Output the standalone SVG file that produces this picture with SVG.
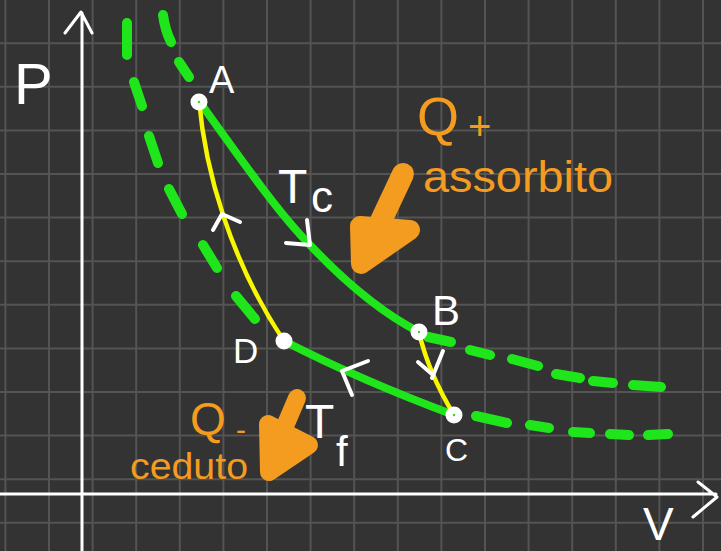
<svg xmlns="http://www.w3.org/2000/svg" width="721" height="551" viewBox="0 0 721 551">
<style>
.grid{stroke:#545454;stroke-width:2;fill:none}
.axis{stroke:#ffffff;stroke-width:3;fill:none;stroke-linecap:round;stroke-linejoin:round}
.iso{stroke:#1fe61a;stroke-width:8;fill:none;stroke-linecap:round}
.dash{stroke:#1fe61a;stroke-width:10;fill:none;stroke-linecap:round}
.adi{stroke:#f7f700;stroke-width:4.5;fill:none;stroke-linecap:round}
.tick{stroke:#ffffff;stroke-width:4;fill:none;stroke-linecap:round;stroke-linejoin:round}
.dot{fill:#ffffff}
.core{fill:#1fe61a}
.wl{fill:#ffffff;font-family:"Liberation Sans","DejaVu Sans",sans-serif}
.ol{fill:#f39c1f;font-family:"Liberation Sans","DejaVu Sans",sans-serif}
.oarrow{stroke:#f39c1f;fill:#f39c1f;stroke-linecap:round;stroke-linejoin:round}
</style>
<rect x="0" y="0" width="721" height="551" fill="#333333"/>
<path class="grid" d="M5.4 0V551M49 0V551M92.6 0V551M136.2 0V551M179.8 0V551M223.4 0V551M267 0V551M310.6 0V551M354.2 0V551M397.8 0V551M441.4 0V551M485 0V551M528.6 0V551M572.2 0V551M615.8 0V551M659.4 0V551M703 0V551M0 43.2H721M0 86.8H721M0 130.4H721M0 174H721M0 217.6H721M0 261.2H721M0 304.8H721M0 348.4H721M0 392H721M0 435.6H721M0 479.2H721M0 522.8H721"/>
<g id="axes">
<path class="axis" d="M82 551V13M65 33L81 12L92 33"/>
<path class="axis" d="M0 494H716M698 482L717 497L693 517"/>
<text class="wl" x="14" y="104" font-size="58">P</text>
<text class="wl" x="643" y="540" font-size="46">V</text>
</g>
<g id="connectors">
<path class="iso" d="M199 101C245 165 280 215 310 245C345 282 380 312 419 332"/>
<path class="iso" d="M284 341Q360 380 454 415"/>
<path class="adi" d="M199 100C205 170 230 260 284 341"/>
<path class="adi" d="M419 332Q428 372 454 415"/>
<g id="dashes">
<path class="dash" d="M428 337L451 342M470 350L490 355M512 359L538 366M556 374L580 378M593 381L613 383M633 385L661 387"/>
<path class="dash" d="M476 416L507 423M530 425L549 428M573 432L590 433M610 434L629 435M648 435L668 434"/>
<path class="dash" d="M127 23L127 55M134 82L142 106M149 136L158 163M169 189L182 214M203 245L217 268M236 296L255 319"/>
<path class="dash" d="M163 15Q165 30 171 42M179 62L189 77"/>
</g>
<path class="tick" d="M213 230L222 214L240 222"/>
<path class="tick" d="M307 220L310 245L286 243"/>
<path class="tick" d="M368 361L342 371L352 395"/>
<path class="tick" d="M418 362L433 375M443 351L432 378"/>
</g>
<g id="A"><circle class="dot" cx="199" cy="102" r="8.5"/><circle class="core" cx="199" cy="102" r="1.2"/><text class="wl" x="209" y="93" font-size="38">A</text></g>
<g id="B"><circle class="dot" cx="419" cy="332" r="8.5"/><circle class="core" cx="419" cy="332" r="1.2"/><text class="wl" x="432" y="325" font-size="42">B</text></g>
<g id="C"><circle class="dot" cx="454" cy="415" r="8.5"/><circle class="core" cx="454" cy="415" r="1.2"/><text class="wl" x="445" y="461" font-size="32">C</text></g>
<g id="D"><circle class="dot" cx="284" cy="341" r="8.5"/><text class="wl" x="233" y="363" font-size="35">D</text></g>
<g id="Tc"><text class="wl" font-size="48"><tspan x="278" y="203">T</tspan><tspan x="311" y="212" font-size="44">c</tspan></text></g>
<g id="Tf"><text class="wl" font-size="48"><tspan x="305" y="438">T</tspan><tspan x="336" y="466" font-size="42">f</tspan></text></g>
<g id="Qplus">
<path class="oarrow" stroke-width="22" d="M403 174L372 240"/>
<path class="oarrow" stroke-width="20" d="M360 226L361 264L410 230Z"/>
<text class="ol" x="417" y="135" font-size="54">Q</text>
<text class="ol" x="468" y="140" font-size="40">+</text>
<text class="ol" x="423" y="192" font-size="45" textLength="190" lengthAdjust="spacingAndGlyphs">assorbito</text>
</g>
<g id="Qminus">
<path class="oarrow" stroke-width="18" d="M297 398L274 452"/>
<path class="oarrow" stroke-width="18" d="M268 424L269 472L309 445Z"/>
<text class="ol" x="190" y="435" font-size="46">Q</text>
<text class="ol" x="236" y="440" font-size="30">-</text>
<text class="ol" x="130" y="479" font-size="37" textLength="118" lengthAdjust="spacingAndGlyphs">ceduto</text>
</g>
</svg>
